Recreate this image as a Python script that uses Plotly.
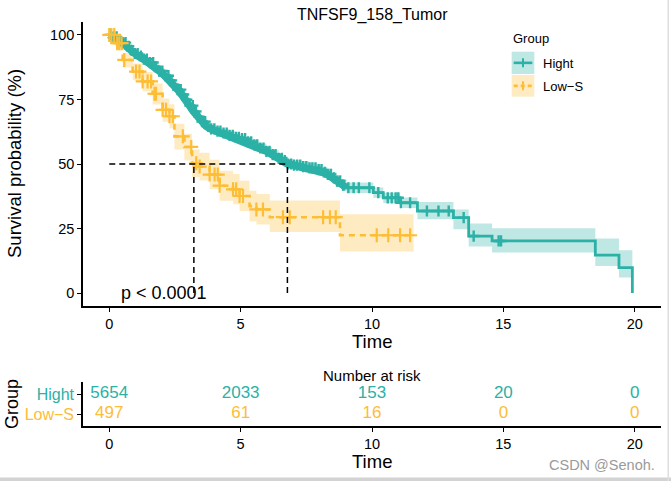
import numpy as np
import plotly.graph_objects as go

# ---------------- data ----------------
title_text = "TNFSF9_158_Tumor"
group_names = ["Hight", "Low\u2212S"]

hight_time = [0, 0.15, 0.3, 0.45, 0.64, 0.8, 0.95, 1.1, 1.3, 1.5, 1.7, 1.9, 2.1, 2.29, 2.45,
              2.6, 2.75, 2.93, 3.05, 3.2, 3.35, 3.5, 3.69, 3.85, 4.07, 4.3, 4.55, 4.8, 4.96, 5.2,
              5.45, 5.7, 5.98, 6.2, 6.45, 6.6, 6.78, 7.0, 7.3, 7.6, 7.89, 8.1, 8.3, 8.5, 8.65,
              8.85, 9.03, 10.05, 10.43, 11.07, 11.73, 13.1, 13.68, 14.57, 18.5, 19.4, 19.91]
hight_surv = [100, 99.2, 98.2, 97.0, 95.6, 94.0, 92.8, 91.8, 90.6, 89.3, 87.6, 86.0, 84.2, 82.4, 80.6,
              78.8, 76.9, 74.9, 72.6, 70.4, 68.3, 66.4, 64.6, 63.6, 62.7, 62.0, 61.1, 60.3, 59.8, 58.6,
              57.4, 56.2, 54.9, 53.6, 52.2, 51.3, 50.0, 49.6, 49.0, 48.5, 47.8, 46.8, 46.0, 44.6, 43.4,
              41.8, 40.8, 38.9, 36.9, 35.0, 31.8, 29.2, 22.1, 20.2, 14.7, 9.9, 0]
hight_lower = [100, 98.7, 97.6, 96.3, 94.8, 93.2, 91.9, 90.9, 89.7, 88.3, 86.6, 84.9, 83.1, 81.3, 79.4,
               77.6, 75.7, 73.6, 71.3, 69.1, 67.0, 65.0, 63.2, 62.2, 61.3, 60.5, 59.6, 58.8, 58.2, 57.0,
               55.8, 54.5, 53.2, 51.9, 50.4, 49.5, 48.2, 47.7, 47.0, 46.5, 45.7, 44.7, 43.8, 42.4, 41.1,
               39.5, 38.8, 36.9, 34.9, 33.0, 28.6, 24.7, 18.0, 15.7, 10.5, 6.0, 0]
hight_upper = [100, 99.7, 98.8, 97.7, 96.4, 94.8, 93.7, 92.7, 91.5, 90.3, 88.6, 87.1, 85.3, 83.5, 81.8,
               80.0, 78.1, 76.2, 73.9, 71.7, 69.6, 67.8, 66.0, 65.0, 64.1, 63.5, 62.6, 61.8, 61.4, 60.2,
               59.0, 57.9, 56.6, 55.3, 54.0, 53.1, 51.8, 51.5, 51.0, 50.5, 49.9, 48.9, 48.2, 46.8, 45.7,
               44.1, 42.8, 40.9, 38.9, 37.0, 35.3, 32.4, 27.0, 25.1, 21.1, 16.6, 0]
hight_censor = [0.06, 0.17, 0.28, 0.4, 0.51, 0.62, 0.74, 0.85, 0.97, 1.08, 1.2, 1.32, 1.43, 1.55, 1.67,
                1.78, 1.9, 2.02, 2.13, 2.25, 2.37, 2.48, 2.6, 2.72, 2.83, 2.95, 3.07, 3.18, 3.3, 3.42,
                3.53, 3.65, 3.77, 3.88, 4.0, 4.12, 4.23, 4.35, 4.47, 4.58, 4.7, 4.82, 4.93, 5.05, 5.17,
                5.28, 5.4, 5.52, 5.63, 5.75, 5.87, 5.98, 6.1, 6.22, 6.33, 6.45, 6.57, 6.68, 6.8, 6.92,
                7.03, 7.15, 7.27, 7.38, 7.5, 7.62, 7.73, 7.85, 7.97, 8.08, 8.2, 8.32, 8.43, 8.55, 8.67,
                8.78, 8.9, 9.1, 9.3, 9.5, 9.9, 10.24, 10.6, 10.75, 10.9, 11.0, 11.1, 11.45, 12.09,
                12.53, 12.92, 13.49, 13.87, 14.82, 14.91]
# censoring is so dense up to this time that the marks merge into a thick band
hight_dense_until = 9.03

low_time = [0, 0.25, 0.51, 0.89, 1.27, 1.65, 2.03, 2.29, 2.48, 2.86, 3.15, 3.44, 3.82, 4.20, 4.71,
            4.96, 5.34, 5.60, 6.11, 8.78, 11.58]
low_surv = [100, 96.8, 90.3, 85.8, 82.0, 77.2, 71.0, 68.5, 60.7, 56.6, 50.3, 49.0, 45.9, 41.6, 40.2,
            37.6, 33.7, 32.4, 29.4, 22.4, 22.4]
low_lower = [100, 94.6, 87.4, 82.4, 78.2, 73.0, 66.4, 63.8, 55.6, 51.4, 45.0, 43.6, 40.2, 35.8, 34.4,
             31.8, 27.8, 26.6, 23.7, 16.1, 16.1]
low_upper = [100, 98.6, 92.9, 88.9, 85.6, 81.2, 75.4, 73.1, 65.6, 61.7, 55.6, 54.4, 51.6, 47.4, 46.1,
             43.5, 39.6, 38.4, 35.9, 30.5, 30.5]
low_censor = [0.0, 0.08, 0.19, 0.3, 0.38, 0.47, 0.57, 1.02, 1.15, 1.27, 1.46, 1.59, 1.72, 1.78, 2.03,
              2.16, 2.29, 2.42, 2.80, 3.12, 3.31, 3.44, 3.82, 4.01, 4.13, 4.20, 4.71, 4.83, 4.96, 5.09,
              5.60, 5.85, 6.61, 6.87, 8.14, 8.40, 8.62, 10.18, 10.62, 11.07, 11.45]

median_times = [6.78, 3.22]   # Hight, Low-S
median_level = 50
p_text = "p < 0.0001"

x_ticks = [0, 5, 10, 15, 20]
y_ticks = [0, 25, 50, 75, 100]
risk_times = [0, 5, 10, 15, 20]
risk_hight = [5654, 2033, 153, 20, 0]
risk_low = [497, 61, 16, 0, 0]

# ---------------- styling ----------------
W, H = 671, 481
TEAL = "#2BB1A6"
YEL = "#FDBD35"
TEAL_F = "rgba(43,177,166,0.30)"
YEL_F = "rgba(253,189,53,0.30)"
FONT = "Liberation Sans, Arial, sans-serif"


def px(x):
    return x / W


def py(y):
    return 1 - y / H


def step_at(times, surv, t):
    i = np.searchsorted(np.asarray(times), t, side="right") - 1
    return np.asarray(surv)[i]


fig = go.Figure()

# confidence ribbons
for t, lo, up, fc in [(hight_time, hight_lower, hight_upper, TEAL_F),
                      (low_time, low_lower, low_upper, YEL_F)]:
    fig.add_trace(go.Scatter(x=t, y=lo, mode="lines", line=dict(width=0, shape="hv"),
                             hoverinfo="skip", showlegend=False))
    fig.add_trace(go.Scatter(x=t, y=up, mode="lines", line=dict(width=0, shape="hv"),
                             fill="tonexty", fillcolor=fc, hoverinfo="skip", showlegend=False))

# survival curves
ht = np.asarray(hight_time)
hs = np.asarray(hight_surv)
dense = ht <= hight_dense_until
fig.add_trace(go.Scatter(x=ht[dense], y=hs[dense], mode="lines",
                         line=dict(color=TEAL, width=7.5, shape="linear"), showlegend=False))
fig.add_trace(go.Scatter(x=hight_time, y=hight_surv, mode="lines",
                         line=dict(color=TEAL, width=2.8, shape="hv"), showlegend=False))
fig.add_trace(go.Scatter(x=low_time, y=low_surv, mode="lines",
                         line=dict(color=YEL, width=2.6, shape="hv", dash="6px,5px"), showlegend=False))

# censor marks
fig.add_trace(go.Scatter(x=hight_censor, y=step_at(hight_time, hight_surv, hight_censor), mode="markers",
                         marker=dict(symbol="cross-thin", size=8, line=dict(color=TEAL, width=2.4)),
                         showlegend=False))
fig.add_trace(go.Scatter(x=low_censor, y=step_at(low_time, low_surv, low_censor), mode="markers",
                         marker=dict(symbol="cross-thin", size=10, line=dict(color=YEL, width=2.2)),
                         showlegend=False))

# risk table numbers
fig.add_trace(go.Scatter(x=risk_times, y=[2] * len(risk_times), mode="text",
                         text=[str(v) for v in risk_hight], textfont=dict(family=FONT, size=17, color=TEAL),
                         xaxis="x2", yaxis="y2", showlegend=False))
fig.add_trace(go.Scatter(x=risk_times, y=[1] * len(risk_times), mode="text",
                         text=[str(v) for v in risk_low], textfont=dict(family=FONT, size=17, color=YEL),
                         xaxis="x2", yaxis="y2", showlegend=False))

axis_common = dict(showline=True, linecolor="black", linewidth=1.6, ticks="outside", ticklen=4,
                   tickwidth=1.4, tickcolor="black", showgrid=False, zeroline=False,
                   tickfont=dict(family=FONT, size=14.5, color="black"))

shapes = []
# median lines
dash_line = dict(color="black", width=1.5, dash="6px,4px")
shapes.append(dict(type="line", xref="x", yref="y", x0=0, x1=max(median_times),
                   y0=median_level, y1=median_level, line=dash_line))
for mt in median_times:
    shapes.append(dict(type="line", xref="x", yref="y", x0=mt, x1=mt, y0=0, y1=median_level, line=dash_line))

# legend keys
key_x0, key_x1 = 511.7, 534.3
for (y0, y1), col, fcol, dsh in [((51.7, 74.0), TEAL, TEAL_F, None), ((75.0, 96.7), YEL, YEL_F, "4px,3px")]:
    shapes.append(dict(type="rect", xref="paper", yref="paper", x0=px(key_x0), x1=px(key_x1),
                       y0=py(y1), y1=py(y0), fillcolor=fcol, line=dict(width=0)))
    ym = (y0 + y1) / 2
    ln = dict(color=col, width=2.6)
    if dsh:
        ln["dash"] = dsh
    shapes.append(dict(type="line", xref="paper", yref="paper", x0=px(key_x0 + 2), x1=px(key_x1 - 2),
                       y0=py(ym), y1=py(ym), line=ln))
    shapes.append(dict(type="line", xref="paper", yref="paper", x0=px(523), x1=px(523),
                       y0=py(ym - 4.5), y1=py(ym + 4.5), line=dict(color=col, width=2)))

# screenshot border lines
shapes.append(dict(type="rect", xref="paper", yref="paper", x0=0, x1=1, y0=0, y1=py(477.5),
                   fillcolor="#d3d3d3", line=dict(width=0)))
shapes.append(dict(type="rect", xref="paper", yref="paper", x0=px(667.5), x1=px(669), y0=0, y1=1,
                   fillcolor="#dedede", line=dict(width=0)))

ann = []


def add_text(text, x, y, size, color="black", xanchor="center", angle=0, xref="paper", yref="paper"):
    ann.append(dict(text=text, x=x, y=y, xref=xref, yref=yref, xanchor=xanchor, yanchor="middle",
                    showarrow=False, textangle=angle, font=dict(family=FONT, size=size, color=color)))


add_text(title_text, px(372), py(15), 16)
add_text("Time", px(372), py(341), 18.5)
add_text("Survival probability (%)", px(14), py(164), 18.5, angle=-90)
add_text(p_text, 0.38, 0, 18, xanchor="left", xref="x", yref="y")
add_text("Group", px(510.5), py(38), 13, xanchor="left")
add_text(group_names[0], px(540.5), py(63), 13, xanchor="left")
add_text(group_names[1], px(540.5), py(86), 13, xanchor="left")
add_text("Number at risk", px(372), py(375), 15)
add_text("Time", px(372), py(461), 18.5)
add_text("Group", px(12), py(404), 18, angle=-90)
add_text("CSDN @Senoh.", px(657), py(465), 14.5, color="#9a9a9a", xanchor="right")

fig.update_layout(
    width=W, height=H, margin=dict(l=0, r=0, t=0, b=0),
    paper_bgcolor="white", plot_bgcolor="white", showlegend=False,
    xaxis=dict(domain=[px(83), px(661)], anchor="y", range=[-1, 21], tickvals=x_ticks, **axis_common),
    yaxis=dict(domain=[py(306), py(22)], anchor="x", range=[-5, 105], tickvals=y_ticks, **axis_common),
    xaxis2=dict(domain=[px(83), px(661)], anchor="y2", range=[-1, 21], tickvals=risk_times, **axis_common),
    yaxis2=dict(domain=[py(426), py(382)], anchor="x2", range=[0.4, 2.6], tickvals=[2, 1],
                ticktext=[f"<span style='color:{TEAL}'>{group_names[0]}</span>",
                          f"<span style='color:{YEL}'>{group_names[1]}</span>"],
                **{k: v for k, v in axis_common.items() if k != "tickfont"},
                tickfont=dict(family=FONT, size=16)),
    shapes=shapes, annotations=ann,
)

fig.write_html("out.html")
